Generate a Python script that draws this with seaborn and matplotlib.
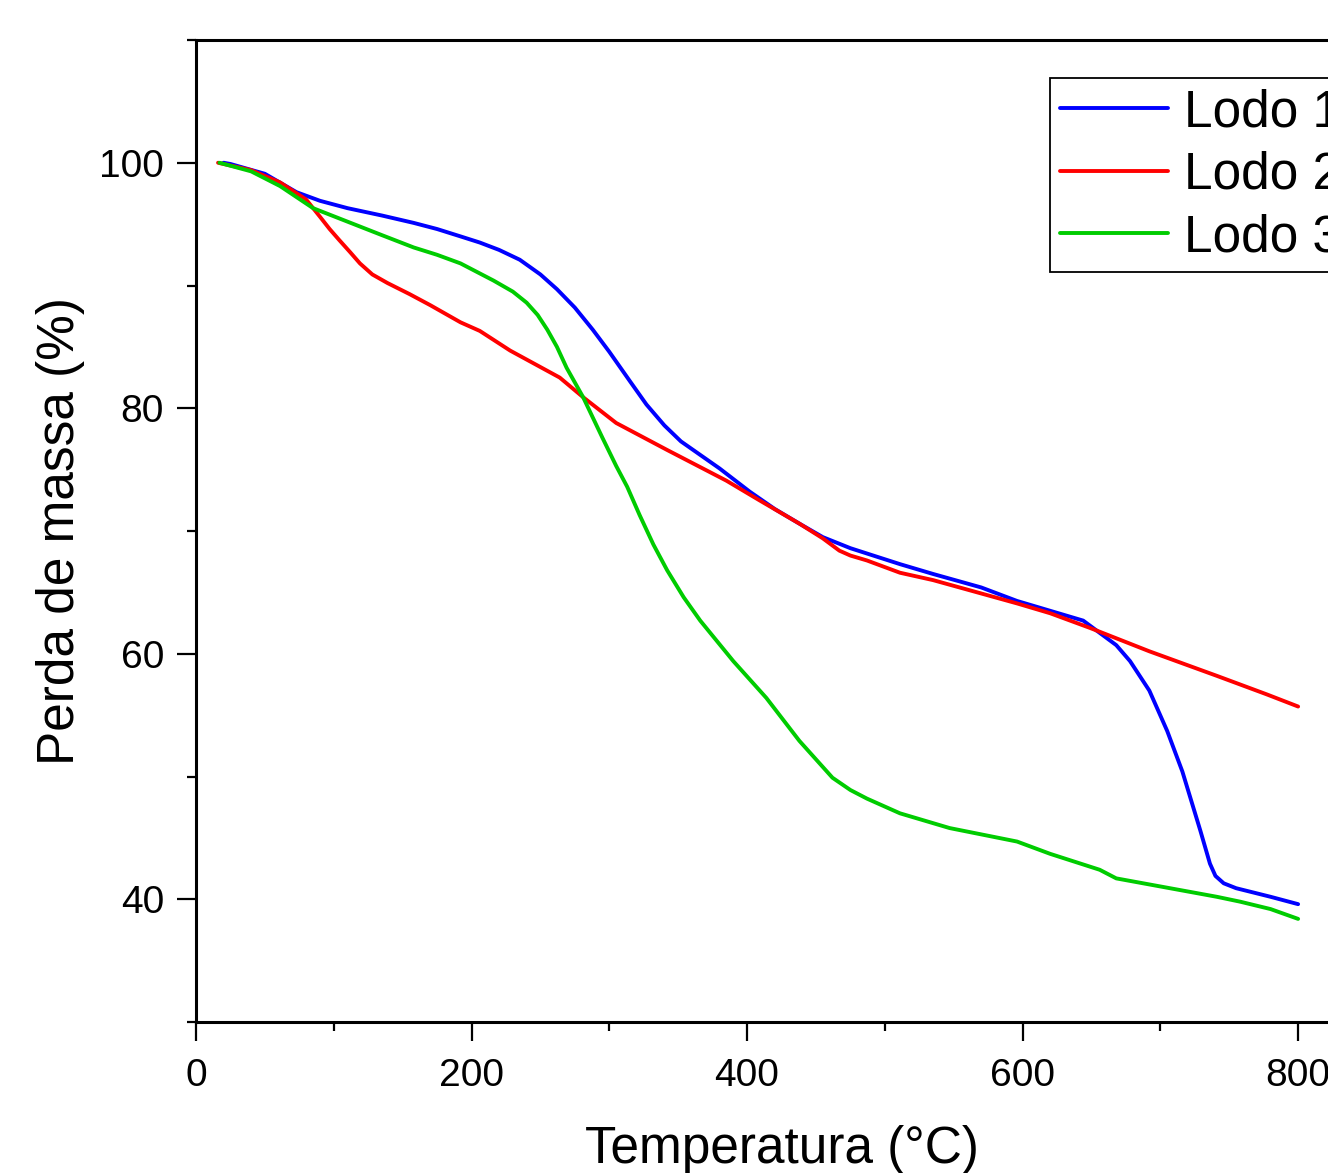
import matplotlib
matplotlib.use("Agg")
import matplotlib.pyplot as plt
import matplotlib.ticker as mticker
import seaborn as sns
import pandas as pd

# ---- data ----
lodo1_T = [20, 25, 50, 73, 90, 110, 135, 158, 175, 192, 206, 220, 235, 250, 262, 275,
           288, 300, 315, 327, 340, 352, 366, 380, 402, 420, 438, 455, 475, 511, 535,
           570, 596, 620, 644, 656, 668, 678, 692, 705, 716, 729, 736, 740, 746, 755,
           780, 800]
lodo1_m = [100, 99.9, 99.1, 97.6, 96.9, 96.3, 95.7, 95.1, 94.6, 94.0, 93.5, 92.9, 92.1,
           90.9, 89.7, 88.2, 86.4, 84.6, 82.2, 80.3, 78.6, 77.3, 76.2, 75.1, 73.2, 71.8,
           70.6, 69.5, 68.6, 67.3, 66.5, 65.4, 64.3, 63.5, 62.7, 61.7, 60.7, 59.4, 57.0,
           53.7, 50.4, 45.6, 42.9, 41.9, 41.3, 40.9, 40.2, 39.6]

lodo2_T = [16, 40, 61, 80, 90, 97, 104, 112, 119, 128, 139, 155, 170, 192, 206, 228,
           264, 281, 305, 342, 385, 409, 438, 455, 467, 475, 487, 511, 535, 596, 620,
           649, 692, 741, 777, 800]
lodo2_m = [100, 99.4, 98.4, 97.0, 95.6, 94.6, 93.7, 92.7, 91.8, 90.9, 90.2, 89.3, 88.4,
           87.0, 86.3, 84.7, 82.5, 80.9, 78.8, 76.6, 74.1, 72.5, 70.6, 69.4, 68.4, 68.0,
           67.6, 66.6, 66.0, 64.1, 63.3, 62.1, 60.2, 58.2, 56.7, 55.7]

lodo3_T = [17, 40, 61, 85, 110, 135, 158, 175, 192, 216, 230, 240, 248, 255, 262, 269,
           281, 295, 305, 313, 322, 332, 342, 354, 366, 390, 414, 438, 450, 462, 475,
           487, 511, 547, 596, 620, 656, 668, 741, 758, 780, 800]
lodo3_m = [100, 99.3, 98.1, 96.3, 95.2, 94.1, 93.1, 92.5, 91.8, 90.4, 89.5, 88.6, 87.6,
           86.4, 85.0, 83.3, 80.9, 77.6, 75.3, 73.6, 71.3, 68.9, 66.8, 64.6, 62.7, 59.4,
           56.4, 52.9, 51.4, 49.9, 48.9, 48.2, 47.0, 45.8, 44.7, 43.7, 42.4, 41.7, 40.2,
           39.8, 39.2, 38.4]

series_names = ["Lodo 1", "Lodo 2", "Lodo 3"]
series_colors = ["#0000FF", "#FF0000", "#00CC00"]

x_label = "Temperatura (°C)"
y_label = "Perda de massa (%)"

df = pd.concat([
    pd.DataFrame({"T": lodo1_T, "m": lodo1_m, "amostra": series_names[0]}),
    pd.DataFrame({"T": lodo2_T, "m": lodo2_m, "amostra": series_names[1]}),
    pd.DataFrame({"T": lodo3_T, "m": lodo3_m, "amostra": series_names[2]}),
], ignore_index=True)

# ---- styling ----
sns.set_style("ticks")
plt.rcParams["font.family"] = ["Liberation Sans", "DejaVu Sans"]
plt.rcParams["text.color"] = "black"
plt.rcParams["axes.labelcolor"] = "black"
plt.rcParams["xtick.color"] = "black"
plt.rcParams["ytick.color"] = "black"

W, H = 1328, 1173
fig = plt.figure(figsize=(W / 100, H / 100), dpi=100)
ax_left, ax_right, ax_top, ax_bottom = 196, 1367, 40, 1022
ax = fig.add_axes([ax_left / W, 1 - ax_bottom / H, (ax_right - ax_left) / W,
                   (ax_bottom - ax_top) / H])

sns.lineplot(data=df, x="T", y="m", hue="amostra", palette=series_colors,
             hue_order=series_names, sort=False, estimator=None, linewidth=2.8,
             ax=ax, legend=True)

ax.set_xlim(0, 850)
ax.set_ylim(30, 110)
ax.xaxis.set_major_locator(mticker.MultipleLocator(200))
ax.xaxis.set_minor_locator(mticker.MultipleLocator(100))
ax.yaxis.set_major_locator(mticker.FixedLocator([40, 60, 80, 100]))
ax.yaxis.set_minor_locator(mticker.MultipleLocator(10))

ax.tick_params(axis="both", which="major", direction="out", length=14, width=1.6,
               labelsize=28, pad=9, color="black", labelcolor="black")
ax.tick_params(axis="x", which="major", pad=12)
ax.tick_params(axis="both", which="minor", direction="out", length=6.5, width=1.6,
               color="black")
ax.tick_params(top=False, right=False)

for sp in ax.spines.values():
    sp.set_linewidth(2.2)
    sp.set_color("black")

ax.set_xlabel(x_label, fontsize=37, labelpad=22, color="black")
ax.set_ylabel(y_label, fontsize=37, labelpad=10, color="black")

leg = ax.legend(title=None, loc="upper left",
                bbox_to_anchor=(1050 / W, 1 - 78 / H),
                bbox_transform=fig.transFigure, fontsize=37, frameon=True,
                fancybox=False, framealpha=1, edgecolor="black",
                borderpad=0.2, labelspacing=0.26, handlelength=2.1,
                handletextpad=0.3, borderaxespad=0)
leg.get_frame().set_linewidth(1.3)
for line in leg.get_lines():
    line.set_linewidth(2.8)
for t in leg.get_texts():
    t.set_color("black")

fig.savefig("out.png", dpi=100)
